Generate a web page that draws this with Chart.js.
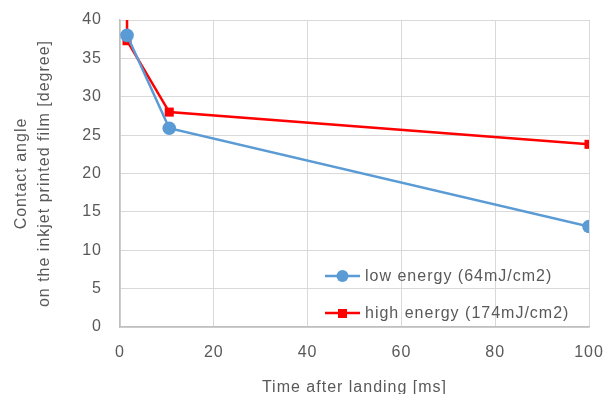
<!DOCTYPE html>
<html>
<head>
<meta charset="utf-8">
<script src="https://cdn.jsdelivr.net/npm/chart.js@4"></script>
<style>
    html, body { margin: 0; padding: 0; background: #ffffff; }
    #wrap { width: 603px; height: 394px; }
</style>
</head>
<body>
<div id="wrap"><canvas id="chart" width="603" height="394"></canvas></div>
<script>
// ── Data ─────────────────────────────────────────────────────────────────────

const lowLabel  = "low energy (64mJ/cm2)";
const lowX      = [1.5, 10.5, 100];
const lowY      = [38, 25.9, 13.1];

const highLabel = "high energy (174mJ/cm2)";
const highX     = [1.5, 1.5, 10.5, 100];
const highY     = [60, 37.3, 28, 23.8];   // first point runs off the top

const xTitle = "Time after landing [ms]";
const yTitle = ["Contact angle", "on the inkjet printed film [degree]"];

const TEXT  = "#595959";
const GRID  = "#d9d9d9";
const BLUE  = "#5b9bd5";
const RED   = "#ff0000";
const FONT  = "'Liberation Sans', Arial, sans-serif";
const SIZE  = 16;

const pts = (xs, ys) => xs.map((x, i) => ({ x, y: ys[i] }));

// ── Wide letter spacing, like the original's text ───────────────────────────
// Canvas state is reset when the canvas is sized, so set it on every pass.

const spacing = {
    id: "spacing",
    beforeUpdate(chart) { chart.ctx.letterSpacing = "1px"; },
    beforeLayout(chart) { chart.ctx.letterSpacing = "1px"; },
    beforeDraw(chart)   { chart.ctx.letterSpacing = "1px"; },
};

// ── Legend drawn inside the plot area (bottom right) ─────────────────────────

const insideLegend = {
    id: "insideLegend",
    afterDatasetsDraw(chart) {
        const { ctx, chartArea } = chart;
        const x0 = chartArea.right - 264;
        const rows = [chartArea.bottom - 51, chartArea.bottom - 14];

        chart.data.datasets.forEach((ds, i) => {
            const y = rows[i];
            ctx.save();
            ctx.strokeStyle = ds.borderColor;
            ctx.lineWidth = ds.borderWidth;
            ctx.beginPath();
            ctx.moveTo(x0, y);
            ctx.lineTo(x0 + 35, y);
            ctx.stroke();
            ctx.fillStyle = ds.backgroundColor;
            if (ds.pointStyle === "rect") {
                ctx.fillRect(x0 + 13, y - 4, 9, 9);
            } else {
                ctx.beginPath();
                ctx.arc(x0 + 17.5, y, 6, 0, Math.PI * 2);
                ctx.fill();
            }
            ctx.fillStyle = TEXT;
            ctx.font = SIZE + "px " + FONT;
            ctx.letterSpacing = "1px";
            ctx.textBaseline = "middle";
            ctx.fillText(ds.label, x0 + 40, y + 1);
            ctx.restore();
        });
    },
};

// ── Chart ────────────────────────────────────────────────────────────────────

new Chart(document.getElementById("chart"), {
    type: "scatter",
    data: {
        datasets: [
            {
                label:           lowLabel,
                data:            pts(lowX, lowY),
                showLine:        true,
                borderColor:     BLUE,
                backgroundColor: BLUE,
                borderWidth:     2.5,
                pointStyle:      "circle",
                pointRadius:     6.8,
                pointBorderWidth: 0,
            },
            {
                label:           highLabel,
                data:            pts(highX, highY),
                showLine:        true,
                borderColor:     RED,
                backgroundColor: RED,
                borderWidth:     2.5,
                pointStyle:      "rect",
                pointRadius:     6.4,
                pointBorderWidth: 0,
            },
        ],
    },
    options: {
        responsive: false,
        animation:  false,
        layout: { padding: { top: 20, right: 14, left: 0, bottom: 0 } },
        plugins: {
            legend:  { display: false },
            tooltip: { enabled: false },
        },
        scales: {
            x: {
                type: "linear",
                min: 0, max: 100,
                afterFit: s => {
                    s.height = 67;
                    s.paddingLeft = 0;
                    s.paddingRight = 0;
                },
                ticks: {
                    stepSize: 20,
                    padding:  16,
                    maxRotation: 0,
                    color:    TEXT,
                    font:     { family: FONT, size: SIZE },
                },
                grid:   { color: GRID, lineWidth: 1, drawTicks: false },
                border: { color: "#bfbfbf", width: 1.5 },
                title: {
                    display: true,
                    text:    xTitle,
                    color:   TEXT,
                    font:    { family: FONT, size: SIZE },
                    padding: { top: 0, bottom: -3 },
                },
            },
            y: {
                min: 0, max: 40,
                afterFit: s => {
                    s.width = 120;
                    s.paddingTop = 0;
                    s.paddingBottom = 0;
                },
                ticks: {
                    stepSize: 5,
                    padding:  18,
                    color:    TEXT,
                    font:     { family: FONT, size: SIZE },
                },
                grid:   { color: GRID, lineWidth: 1, drawTicks: false },
                border: { color: "#bfbfbf", width: 1.5 },
                title: {
                    display: true,
                    text:    yTitle,
                    color:   TEXT,
                    font:    { family: FONT, size: SIZE, lineHeight: 1.45 },
                    padding: { top: 10, bottom: 0 },
                },
            },
        },
    },
    plugins: [spacing, insideLegend],
});
</script>
</body>
</html>
